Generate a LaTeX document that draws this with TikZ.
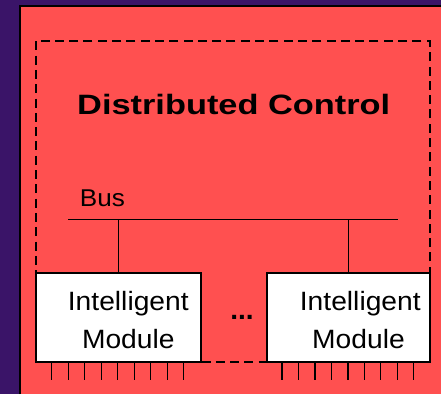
\documentclass[tikz,border=0pt]{standalone}
\usepackage{fontspec}
\usepackage{graphicx}
\setmainfont{Liberation Sans}
\usetikzlibrary{calc}
\definecolor{bgpurple}{HTML}{3A1468}
\definecolor{panelred}{HTML}{FF5050}
\begin{document}
\begin{tikzpicture}[x=1pt,y=-1pt,
  module/.style={draw=black, line width=1.2pt, fill=white, inner sep=0pt, minimum height=89pt},
  wire/.style={draw=black, line width=1.3pt},
  pin/.style={draw=black, line width=1.3pt},
  frame/.style={draw=black, line width=2pt, dash pattern=on 9pt off 5.3pt},
  modtext/.style={anchor=base, inner sep=0pt, font=\fontsize{26.5}{30}\selectfont},
]
\useasboundingbox (0,0) rectangle (441,394);
\fill[bgpurple] (0,0) rectangle (441,394);
\fill[panelred] (20,6) rectangle (441,394);
\draw[line width=2pt] (20,394) -- (20,6) -- (441,6);

% modules
\node[module, minimum width=165pt] (m1) at (118.5,317.5) {};
\node[module, minimum width=163pt] (m2) at (348.5,317.5) {};

% bus
\coordinate (busL) at (68,219.3);
\coordinate (busR) at (398,219.3);
\draw[wire] (busL) -- (busR);
\draw[wire] (m1.north) -- (m1.north |- busL);
\draw[wire] (m2.north) -- (m2.north |- busL);

% pins
\foreach \i in {0,...,8} {
  \draw[pin] ($(m1.south west)+(16.3+16.5*\i,0)$) -- ++(0,17.5);
  \draw[pin] ($(m2.south west)+(15.7+16.45*\i,0)$) -- ++(0,17.5);
}

% dashed boundary
\draw[frame] (35.8,41.3) rectangle (430,361.8);

% texts
\node[anchor=base, inner sep=0pt] (title) at (233.7,114.5)
  {\fontsize{28}{30}\selectfont\bfseries\scalebox{1.227}[1]{Distributed Control}};
\node[anchor=base, inner sep=0pt] (bus) at (102.5,206.7)
  {\fontsize{24.3}{28}\selectfont\scalebox{1.075}[1]{Bus}};
\node[modtext] (m1a) at (128.3,310.7) {\scalebox{1.065}[1]{Intelligent}};
\node[modtext] (m1b) at (128.3,348.3) {\scalebox{1.065}[1]{Module}};
\node[modtext] (m2a) at (360.3,310.7) {\scalebox{1.065}[1]{Intelligent}};
\node[modtext] (m2b) at (358.5,348.3) {\scalebox{1.065}[1]{Module}};
\node[anchor=base, inner sep=0pt] (dots) at (242,319.3)
  {\fontsize{28}{30}\selectfont\bfseries ...};
\end{tikzpicture}
\end{document}
